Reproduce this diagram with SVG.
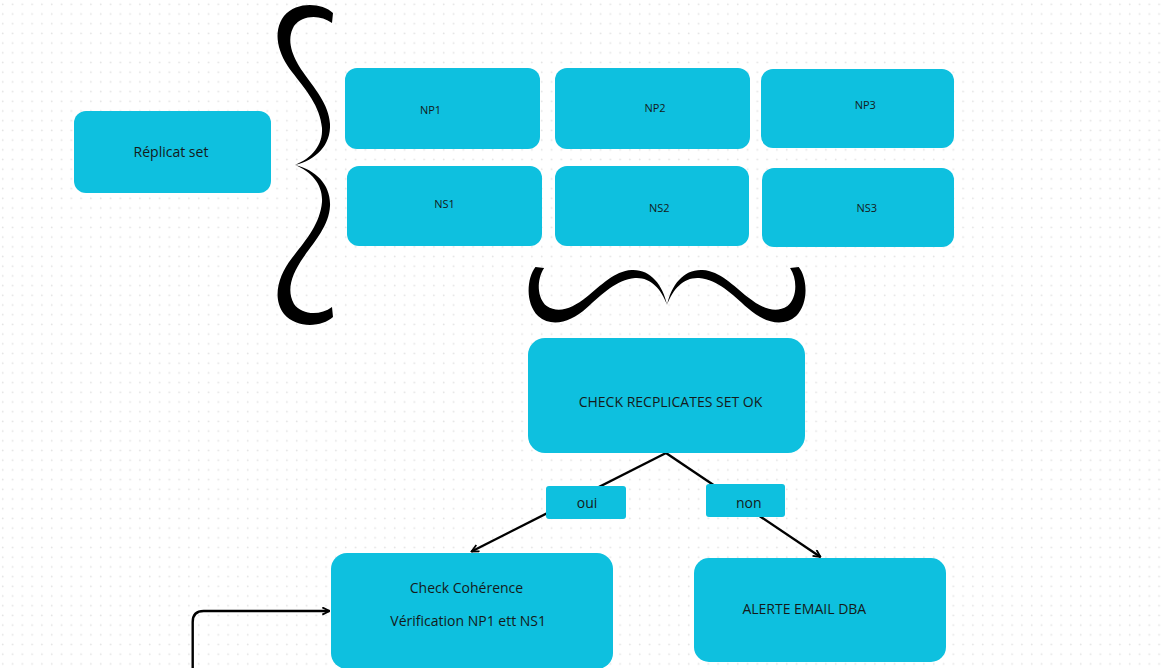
<svg xmlns="http://www.w3.org/2000/svg" width="1162" height="668" viewBox="0 0 1162 668">
  <style>
    .box { fill: #0ec0df; }
    .lbl { font-family: "Open Sans", "Liberation Sans", sans-serif; fill: #141a1a; text-anchor: middle; }
    .big { font-size: 14px; }
    .small { font-size: 11px; }
    .conn { fill: none; stroke: #000; stroke-width: 2.4; }
    .brace { fill: #000; }
  </style>
  <defs>
    <pattern id="dots" width="9.8" height="9.7" patternUnits="userSpaceOnUse">
      <circle cx="2.7" cy="4.3" r="0.9" fill="#e3e3e3"/>
    </pattern>
    <marker id="arrow" viewBox="0 0 10 10" refX="9" refY="5" markerWidth="9" markerHeight="9" markerUnits="userSpaceOnUse" orient="auto">
      <path d="M1,1 L9,5 L1,9" fill="none" stroke="#000" stroke-width="2"/>
    </marker>
    <path id="halfBrace" d="M333,13 C322,3 297,1 284,16 C272,32 278,54 292,72 C306,90 320,106 322,128 C323,145 312,158 295,165 C316,160 331,145 330,124 C329,104 314,88 303,72 C292,56 286,40 294,26 C302,15 320,14 332,23 Z"/>
    <g id="brace">
      <use href="#halfBrace"/>
      <use href="#halfBrace" transform="matrix(1,0,0,-1,0,330)"/>
    </g>
  </defs>

  <rect width="1162" height="668" fill="#ffffff"/>
  <rect width="1162" height="668" fill="url(#dots)"/>

  <g id="braces" class="brace">
    <use href="#brace"/>
    <use href="#brace" transform="matrix(0,-1,0.866,0,524.2,600)"/>
  </g>

  <g id="connectors">
    <path class="conn" d="M666,453 L471.5,551.5" marker-end="url(#arrow)"/>
    <path class="conn" d="M666,453 L820.5,557" marker-end="url(#arrow)"/>
    <path class="conn" d="M192.7,668 V622 Q192.7,611 203.7,611 H329.5" marker-end="url(#arrow)"/>
  </g>

  <g id="node-replicat-set">
    <rect class="box" x="74" y="111" width="197" height="82" rx="12"/>
    <text class="lbl big" x="171" y="157">Réplicat set</text>
  </g>
  <g id="node-np1">
    <rect class="box" x="345" y="68" width="195" height="81" rx="12"/>
    <text class="lbl small" x="430.5" y="114">NP1</text>
  </g>
  <g id="node-np2">
    <rect class="box" x="555" y="68" width="195" height="81" rx="12"/>
    <text class="lbl small" x="655" y="112">NP2</text>
  </g>
  <g id="node-np3">
    <rect class="box" x="761" y="69" width="193" height="79" rx="12"/>
    <text class="lbl small" x="865.3" y="109">NP3</text>
  </g>
  <g id="node-ns1">
    <rect class="box" x="347" y="166" width="195" height="80" rx="12"/>
    <text class="lbl small" x="444.5" y="208">NS1</text>
  </g>
  <g id="node-ns2">
    <rect class="box" x="555" y="166" width="194" height="80" rx="12"/>
    <text class="lbl small" x="659.3" y="212">NS2</text>
  </g>
  <g id="node-ns3">
    <rect class="box" x="762" y="168" width="192" height="79" rx="12"/>
    <text class="lbl small" x="866.8" y="211.5">NS3</text>
  </g>
  <g id="node-check-replicates">
    <rect class="box" x="528" y="338" width="277" height="115" rx="17"/>
    <text class="lbl big" x="670.5" y="406.5">CHECK RECPLICATES SET OK</text>
  </g>
  <g id="node-oui">
    <rect class="box" x="546" y="486" width="80" height="33" rx="3"/>
    <text class="lbl big" x="587" y="507.5">oui</text>
  </g>
  <g id="node-non">
    <rect class="box" x="706" y="484" width="79" height="33" rx="3"/>
    <text class="lbl big" x="748.8" y="507.5">non</text>
  </g>
  <g id="node-check-coherence">
    <rect class="box" x="331" y="553" width="282" height="116" rx="16"/>
    <text class="lbl big" x="466.5" y="592.5">Check Cohérence</text>
    <text class="lbl big" x="468.2" y="625.5">Vérification NP1 ett NS1</text>
  </g>
  <g id="node-alerte">
    <rect class="box" x="694" y="558" width="252" height="104" rx="15"/>
    <text class="lbl big" x="804.3" y="614.3">ALERTE EMAIL DBA</text>
  </g>
</svg>
